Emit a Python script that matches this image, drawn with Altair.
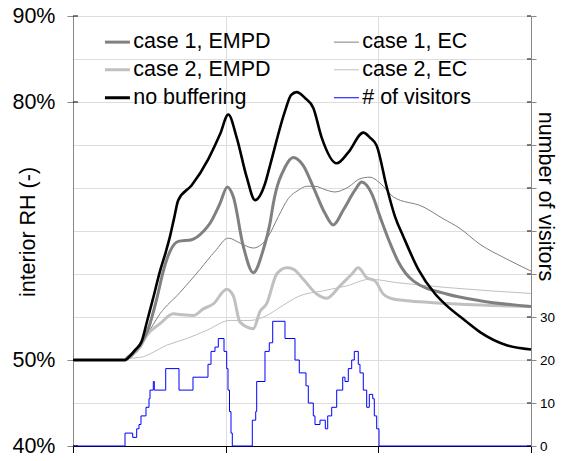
import altair as alt
import pandas as pd

# ---------------- data ----------------
# legend order (filled column by column: left column, then right column)
names = ["case 1, EMPD", "case 2, EMPD", "no buffering", "case 1, EC", "case 2, EC", "# of visitors"]
colors = ["#808080", "#c0c0c0", "#000000", "#808080", "#c0c0c0", "#0000ff"]
thin_names = ["case 1, EC", "case 2, EC", "# of visitors"]

# time in hours, interior RH in %
t_nobuf = [0, 2.725, 2.987, 3.249, 3.600, 3.878, 4.192, 4.559, 4.873, 5.083, 5.293, 5.518, 6.220,
           7.090, 7.703, 8.138, 8.578, 9.102, 9.537, 10.061, 10.323, 11.109, 11.424, 11.722, 12.157,
           12.592, 13.032, 13.818, 14.426, 15.212, 15.563, 15.914, 16.438, 16.873, 17.308, 18.094,
           18.969, 19.582, 20.542, 21.328, 22.727, 24.0]
rh_nobuf = [50.0, 50.0, 50.46, 51.15, 52.18, 54.48, 57.13, 60.34, 62.64, 64.37, 66.44, 68.59, 70.31,
            73.37, 76.24, 78.54, 75.86, 71.26, 68.59, 70.49, 72.61, 78.93, 80.80, 81.15, 80.46,
            79.31, 75.86, 72.87, 74.14, 76.44, 75.86, 74.91, 70.11, 66.67, 64.37, 60.54,
            57.70, 56.32, 54.60, 53.25, 51.72, 51.23]

t_c1empd = [0, 2.725, 2.814, 3.511, 3.946, 4.386, 4.732, 5.083, 5.518, 6.220, 6.828, 7.179, 7.703,
            8.086, 8.400, 8.924, 9.448, 9.972, 10.323, 10.496, 11.109, 11.544, 12.068, 12.592,
            13.205, 13.640, 14.164, 14.777, 15.128, 15.652, 16.087, 16.611, 17.030, 17.832,
            19.582, 21.328, 24.0]
rh_c1empd = [50.0, 50.0, 50.19, 51.72, 53.64, 57.09, 60.34, 62.64, 63.79, 63.99, 64.94, 65.90, 68.20,
             70.11, 68.97, 63.22, 60.15, 62.84, 65.90, 68.20, 72.41, 73.56, 72.61, 70.11,
             67.05, 65.71, 67.44, 69.74, 70.69, 69.34, 66.67, 63.60, 61.49, 59.20,
             57.67, 56.90, 56.21]

t_c1ec = [0, 2.725, 3.144, 3.862, 4.559, 5.607, 6.655, 7.441, 8.138, 8.751, 9.448, 10.234, 10.758,
          11.282, 11.806, 12.246, 12.681, 13.294, 13.729, 14.426, 15.039, 15.563, 16.087,
          16.784, 18.341, 19.389, 20.280, 21.328, 22.638, 24.0]
rh_c1ec = [50.0, 50.0, 50.46, 52.87, 55.37, 57.85, 60.54, 62.64, 64.17, 63.60, 63.02, 64.37, 66.67,
           68.77, 69.74, 70.20, 70.20, 69.74, 69.54, 70.11, 71.07, 71.26, 70.57,
           68.97, 67.82, 66.44, 65.29, 63.45, 61.84, 60.34]

t_c2empd = [0, 2.725, 2.987, 3.511, 3.862, 4.559, 5.256, 5.607, 6.304, 6.828, 7.352, 8.054, 8.400,
            8.751, 9.448, 9.799, 10.150, 10.674, 11.198, 11.544, 12.068, 12.770, 13.294, 13.991,
            14.604, 14.950, 15.390, 15.825, 16.260, 16.784, 17.486, 18.707, 21.328, 24.0]
rh_c2empd = [50.0, 50.0, 50.38, 51.49, 52.87, 54.22, 55.37, 55.29, 55.17, 55.94, 56.52, 58.24, 57.47,
             54.40, 53.64, 55.63, 56.55, 60.00, 60.72, 60.57, 59.39, 57.67, 57.18, 58.62,
             59.97, 60.72, 59.57, 59.20, 57.67, 57.09, 56.90, 56.70, 56.40, 56.21]

t_c2ec = [0, 2.725, 2.814, 3.684, 4.910, 5.958, 7.006, 8.227, 9.275, 10.150, 10.847, 11.895,
          13.116, 14.342, 15.563, 16.963, 19.582, 24.0]
rh_c2ec = [50.0, 50.0, 50.11, 50.38, 51.72, 52.49, 53.45, 54.60, 54.60, 55.17, 56.13, 57.47,
           58.05, 58.62, 59.39, 59.00, 58.43, 57.74]

# number of visitors (step values starting at each time)
t_vis = [0, 2.725, 3.128, 3.338, 3.459, 3.563, 3.825, 3.983, 4.035, 4.208, 4.260, 4.858, 5.555,
         6.288, 7.074, 7.232, 7.441, 7.614, 7.913, 8.054, 8.122, 8.201, 8.279, 8.348, 9.396,
         9.574, 9.626, 10.061, 10.286, 10.465, 11.109, 11.633, 11.858, 12.209, 12.330, 12.592,
         12.681, 12.943, 13.221, 13.347, 13.556, 13.818, 14.133, 14.253, 14.426, 14.604, 14.741,
         14.950, 15.039, 15.212, 15.390, 15.527, 15.705, 15.789, 15.914, 16.035, 24.0]
n_vis = [0, 3, 2, 4, 5, 7, 9, 11, 13, 15, 13, 18, 13,
         16, 19, 22, 23, 25, 22, 18, 13, 8, 3, 0, 6,
         8, 15, 22, 24, 29, 25, 20, 17, 14, 10, 7,
         5, 6, 4, 7, 9, 13, 16, 15, 18, 20, 22,
         19, 17, 13, 9, 12, 11, 7, 4, 0, 0]

rh_ticks = [40, 50, 80, 90]
vis_ticks = [0, 10, 20, 30, 40, 50, 60, 70, 80, 90, 100]
t_ticks = [0, 8, 16, 24]

# ---------------- tables ----------------
series_rh = [
    ("case 2, EC", t_c2ec, rh_c2ec),
    ("case 2, EMPD", t_c2empd, rh_c2empd),
    ("case 1, EC", t_c1ec, rh_c1ec),
    ("case 1, EMPD", t_c1empd, rh_c1empd),
    ("no buffering", t_nobuf, rh_nobuf),
]
rows = []
for name, ts, vs in series_rh:
    for a, b in zip(ts, vs):
        rows.append({"series": name, "t": a, "rh": b})
rh_df = pd.DataFrame(rows)
vis_df = pd.DataFrame({"series": "# of visitors", "t": t_vis, "n": n_vis})
rh_tick_df = pd.DataFrame({"rh": rh_ticks})
vis_tick_df = pd.DataFrame({"n": vis_ticks})

# ---------------- chart ----------------
FONT = "Liberation Sans"
W, H = 458, 430
THICK, THIN, BLACKW = 3, 1, 2.6

color_scale = alt.Scale(domain=names, range=colors)
thin_test = " || ".join("datum.value == '%s'" % n for n in thin_names)
leg = alt.Legend(title=None, orient="none", legendX=33.7, legendY=15, columns=2,
                 symbolType="stroke", symbolSize=625, labelFont=FONT, labelFontSize=21.5,
                 labelColor="black", labelOffset=5, columnPadding=61, rowPadding=5,
                 padding=0, labelLimit=300,
                 symbolStrokeWidth={"expr": "(%s) ? %s : %s" % (thin_test, THIN, THICK)})

x_enc = alt.X("t:Q", scale=alt.Scale(domain=[0, 24], nice=False, zero=False),
              axis=alt.Axis(values=t_ticks, labels=False, title=None, tickSize=7,
                            domainColor="black", tickColor="black"))

rh_axis = alt.Axis(values=rh_ticks, labelExpr="datum.value + '%'", title="interior RH (-)",
                   tickSize=6, labelPadding=12, labelFontSize=21.5, titleFontSize=21.5,
                   titleFontWeight="normal",
                   titleX=-38.5, titleY=215.5, titleBaseline="alphabetic", titleAngle=270,
                   titleAlign="center")
vis_axis = alt.Axis(values=vis_ticks, orient="right",
                    labelExpr="datum.value <= 30 ? datum.label : ''",
                    title="number of visitors", tickSize=5, labelPadding=3.5,
                    labelFontSize=13.5, titleFontSize=21.5, titleFontWeight="normal",
                    titleAngle=90, titleX=7,
                    titleY=180, titleBaseline="alphabetic", titleAlign="center")

rh_y = alt.Y("rh:Q", scale=alt.Scale(domain=[40, 90], nice=False, zero=False), axis=rh_axis)
vis_y = alt.Y("n:Q", scale=alt.Scale(domain=[0, 100], nice=False, zero=False), axis=vis_axis)
color_enc = alt.Color("series:N", scale=color_scale, legend=leg)


def rh_layer(name, w):
    return alt.Chart(rh_df).transform_filter(alt.datum.series == name).mark_line(
        interpolate="monotone", strokeWidth=w).encode(x=x_enc, y=rh_y, color=color_enc)


rh_layers = [
    rh_layer("case 2, EC", THIN),
    rh_layer("case 1, EC", THIN),
    rh_layer("case 2, EMPD", THICK),
    rh_layer("case 1, EMPD", THICK),
    rh_layer("no buffering", BLACKW),
]
rh_inner = alt.Chart(rh_tick_df).mark_rule(color="black", strokeWidth=1).encode(
    y=alt.Y("rh:Q"), x=alt.value(0), x2=alt.value(5))

vis_line = alt.Chart(vis_df).mark_line(interpolate="step-after", strokeWidth=THIN).encode(
    x=x_enc, y=vis_y, color=color_enc)
vis_inner = alt.Chart(vis_tick_df).mark_rule(color="black", strokeWidth=1).encode(
    y=alt.Y("n:Q"), x=alt.value(W - 4), x2=alt.value(W))

left = alt.layer(*rh_layers, rh_inner)
right = alt.layer(vis_line, vis_inner)

chart = alt.layer(right, left).resolve_scale(y="independent").properties(
    width=W, height=H,
    padding={"left": 65, "top": 8, "right": 25, "bottom": 7},
    autosize=alt.AutoSizeParams(type="none"),
).configure_view(stroke="black", strokeWidth=1).configure_axis(
    grid=False, domainColor="black", tickColor="black", labelColor="black",
    titleColor="black", labelFont=FONT, titleFont=FONT, titleFontWeight="normal",
).configure(font=FONT)

chart.save("out.html", embed_options={"renderer": "svg", "actions": False})
